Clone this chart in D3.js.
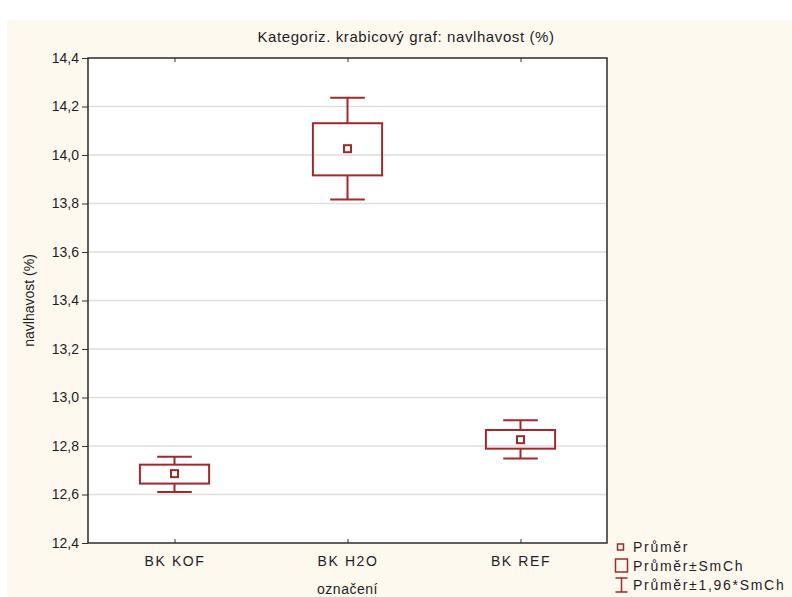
<!DOCTYPE html>
<html>
<head>
<meta charset="utf-8">
<script src="https://cdn.jsdelivr.net/npm/d3@7"></script>
<style>
  body { margin: 0; background: #fff; }
  text { font-family: "Liberation Sans", Arial, sans-serif; fill: #1e1e28; }
</style>
</head>
<body>
<svg id="chart" width="792" height="597"></svg>
<script>
// data
let categories = ['BK KOF', 'BK H2O', 'BK REF'];
let means      = [12.686, 14.026, 12.826];
let boxLow     = [12.645, 13.916, 12.789];   // Průměr - SmCh
let boxHigh    = [12.723, 14.131, 12.866];   // Průměr + SmCh
let whiskLow   = [12.610, 13.816, 12.748];   // Průměr - 1,96*SmCh
let whiskHigh  = [12.756, 14.236, 12.906];   // Průměr + 1,96*SmCh
let yTicks     = [12.4, 12.6, 12.8, 13.0, 13.2, 13.4, 13.6, 13.8, 14.0, 14.2, 14.4];
let legendItems = ['Průměr', 'Průměr±SmCh', 'Průměr±1,96*SmCh'];

let rows = categories.map((c, i) => ({
  cat: c, mean: means[i], lo: boxLow[i], hi: boxHigh[i], wlo: whiskLow[i], whi: whiskHigh[i]
}));

let margin = { top: 58, right: 185, bottom: 54, left: 88 };
let width = 792 - margin.left - margin.right;
let height = 597 - margin.top - margin.bottom;
let red = '#a3282c';

let svg = d3.select('#chart');

// cream page background
svg.append('rect')
    .attr('x', 7).attr('y', 20)
    .attr('width', 785).attr('height', 577)
    .attr('fill', '#fef9ef');

let g = svg.append('g')
    .attr('transform', 'translate(' + margin.left + ',' + margin.top + ')');

let x = d3.scalePoint().domain(categories).range([0, width]).padding(0.5);
let y = d3.scaleLinear().domain([12.4, 14.4]).range([height, 0]);
let step = x.step();

let comma = d3.formatLocale({ decimal: ',', thousands: ' ', grouping: [3], currency: ['', ''] }).format('.1f');

// plot area
g.append('rect')
    .attr('width', width).attr('height', height)
    .attr('fill', '#fff');

// gridlines
g.selectAll('.grid')
    .data(yTicks.slice(1, -1))
    .enter()
    .append('line')
    .attr('x1', 0).attr('x2', width)
    .attr('y1', d => y(d)).attr('y2', d => y(d))
    .attr('stroke', '#dedede')
    .attr('stroke-width', 1.5);

// axes
let yAxis = g.append('g').attr('class', 'axis y')
    .call(d3.axisLeft(y).tickValues(yTicks).tickFormat(comma).tickSize(6).tickPadding(3));
yAxis.select('.domain').remove();
yAxis.selectAll('text').attr('font-size', 14);
yAxis.selectAll('line').attr('stroke', '#333');

let xAxis = g.append('g').attr('class', 'axis x')
    .attr('transform', 'translate(0,' + height + ')')
    .call(d3.axisBottom(x).tickSize(-4).tickPadding(13));
xAxis.select('.domain').remove();
xAxis.selectAll('text').attr('font-size', 14).attr('letter-spacing', 1.6);
xAxis.selectAll('line').attr('stroke', '#333');

let topAxis = g.append('g')
    .call(d3.axisTop(x).tickSize(-4).tickFormat(''));
topAxis.select('.domain').remove();
topAxis.selectAll('line').attr('stroke', '#333');

// frame
g.append('rect')
    .attr('width', width).attr('height', height)
    .attr('fill', 'none')
    .attr('stroke', '#2b2b2b')
    .attr('stroke-width', 1.5);

// boxes
let items = g.selectAll('.item')
    .data(rows)
    .enter()
    .append('g')
    .attr('class', 'item');

items.append('line')
    .attr('x1', d => x(d.cat)).attr('x2', d => x(d.cat))
    .attr('y1', d => y(d.whi)).attr('y2', d => y(d.hi))
    .attr('stroke', red).attr('stroke-width', 2);
items.append('line')
    .attr('x1', d => x(d.cat)).attr('x2', d => x(d.cat))
    .attr('y1', d => y(d.lo)).attr('y2', d => y(d.wlo))
    .attr('stroke', red).attr('stroke-width', 2);
items.append('line')
    .attr('x1', d => x(d.cat) - step * 0.1).attr('x2', d => x(d.cat) + step * 0.1)
    .attr('y1', d => y(d.whi)).attr('y2', d => y(d.whi))
    .attr('stroke', red).attr('stroke-width', 2);
items.append('line')
    .attr('x1', d => x(d.cat) - step * 0.1).attr('x2', d => x(d.cat) + step * 0.1)
    .attr('y1', d => y(d.wlo)).attr('y2', d => y(d.wlo))
    .attr('stroke', red).attr('stroke-width', 2);
items.append('rect')
    .attr('x', d => x(d.cat) - step * 0.2)
    .attr('y', d => y(d.hi))
    .attr('width', step * 0.4)
    .attr('height', d => y(d.lo) - y(d.hi))
    .attr('fill', 'none').attr('stroke', red).attr('stroke-width', 2);
items.append('rect')
    .attr('x', d => x(d.cat) - 3.5)
    .attr('y', d => y(d.mean) - 3.5)
    .attr('width', 7).attr('height', 7)
    .attr('fill', 'none').attr('stroke', red).attr('stroke-width', 2);

// titles
svg.append('text')
    .attr('x', 406).attr('y', 42)
    .attr('text-anchor', 'middle')
    .attr('font-size', 15)
    .attr('letter-spacing', 0.6)
    .text('Kategoriz. krabicový graf: navlhavost (%)');

svg.append('text')
    .attr('transform', 'translate(34,' + (margin.top + height / 2) + ') rotate(-90)')
    .attr('text-anchor', 'middle')
    .attr('font-size', 14)
    .text('navlhavost (%)');

svg.append('text')
    .attr('x', margin.left + x('BK H2O')).attr('y', 594)
    .attr('text-anchor', 'middle')
    .attr('font-size', 14)
    .attr('letter-spacing', 0.5)
    .text('označení');

// legend
let legend = svg.append('g').attr('transform', 'translate(615,547)');
let lg = legend.selectAll('.leg')
    .data(legendItems)
    .enter()
    .append('g')
    .attr('transform', (d, i) => 'translate(0,' + (i * 19) + ')');

lg.append('text')
    .attr('x', 18).attr('dy', '0.35em')
    .attr('font-size', 14)
    .attr('letter-spacing', 1.7)
    .text(d => d);

lg.filter((d, i) => i === 0).append('rect')
    .attr('x', 2.5).attr('y', -3).attr('width', 6).attr('height', 6)
    .attr('fill', 'none').attr('stroke', red).attr('stroke-width', 1.5);
lg.filter((d, i) => i === 1).append('rect')
    .attr('x', 0.5).attr('y', -7).attr('width', 12).attr('height', 13)
    .attr('fill', 'none').attr('stroke', red).attr('stroke-width', 1.5);
let ibeam = lg.filter((d, i) => i === 2);
ibeam.append('path')
    .attr('d', 'M0.5,-7H12.5M6.5,-7V7M0.5,7H12.5')
    .attr('fill', 'none').attr('stroke', red).attr('stroke-width', 1.5);
</script>
</body>
</html>
